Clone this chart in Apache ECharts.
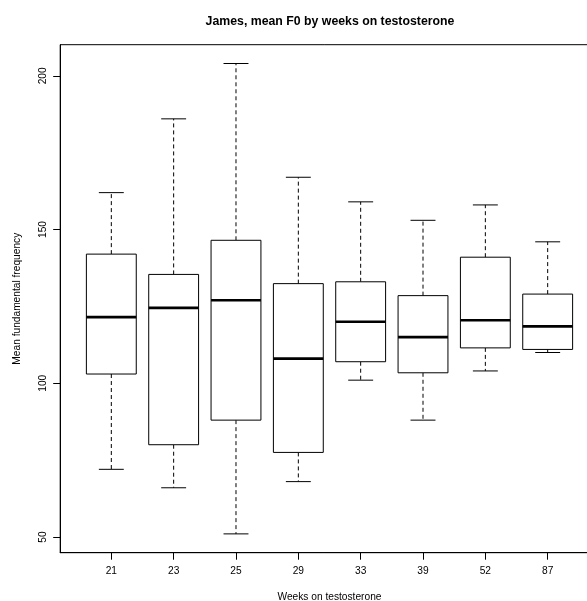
<!DOCTYPE html>
<html>
<head>
<meta charset="utf-8">
<script src="https://cdn.jsdelivr.net/npm/echarts@6/dist/echarts.min.js"></script>
<style>
html,body{margin:0;padding:0;background:#fff;}
#chart{width:587px;height:601px;}
</style>
</head>
<body>
<div id="chart"></div>
<script>
const weeks = ['21', '23', '25', '29', '33', '39', '52', '87'];
const whiskerLow = [72, 66, 51, 68, 101, 88, 104, 110];
const q1 = [103, 80, 88, 77.5, 107, 103.4, 111.5, 111];
const median = [121.5, 124.5, 127, 108, 120, 115, 120.5, 118.5];
const q3 = [142, 135.4, 146.5, 132.4, 133, 128.5, 141, 129];
const whiskerHigh = [162, 186, 204, 167, 159, 153, 158, 146];
const yTicks = [50, 100, 150, 200];
const xTicks = weeks.map((w, i) => i + 1);

const FONT = 'Liberation Sans';
const data = weeks.map((w, i) => [i + 1, whiskerLow[i], q1[i], median[i], q3[i], whiskerHigh[i]]);

const chart = echarts.init(document.getElementById('chart'), null, {renderer: 'canvas'});

function renderItem(params, api) {
  const x = api.value(0);
  const lo = api.coord([x, api.value(1)]);
  const b1 = api.coord([x, api.value(2)]);
  const md = api.coord([x, api.value(3)]);
  const b3 = api.coord([x, api.value(4)]);
  const hi = api.coord([x, api.value(5)]);
  const bw = api.size([0.8, 0])[0];
  const cw = bw / 2;
  const cx = lo[0];
  const dash = {stroke: '#000', lineWidth: 1, lineDash: [4, 3]};
  const solid = {stroke: '#000', lineWidth: 1};
  return {
    type: 'group',
    children: [
      {type: 'line', shape: {x1: cx, y1: b3[1], x2: cx, y2: hi[1]}, style: dash},
      {type: 'line', shape: {x1: cx, y1: b1[1], x2: cx, y2: lo[1]}, style: dash},
      {type: 'line', shape: {x1: cx - cw / 2, y1: hi[1], x2: cx + cw / 2, y2: hi[1]}, style: solid},
      {type: 'line', shape: {x1: cx - cw / 2, y1: lo[1], x2: cx + cw / 2, y2: lo[1]}, style: solid},
      {type: 'rect', shape: {x: cx - bw / 2, y: b3[1], width: bw, height: b1[1] - b3[1]},
        style: {fill: '#fff', stroke: '#000', lineWidth: 1}},
      {type: 'line', shape: {x1: cx - bw / 2, y1: md[1], x2: cx + bw / 2, y2: md[1]},
        style: {stroke: '#000', lineWidth: 2.6}}
    ]
  };
}

const option = {
  animation: false,
  backgroundColor: '#fff',
  title: {
    text: 'James, mean F0 by weeks on testosterone',
    left: 325,
    top: 11,
    textAlign: 'center',
    textStyle: {fontFamily: FONT, fontSize: 12.3, fontWeight: 'bold', color: '#000'}
  },
  grid: {
    left: 60.2, top: 44.7, width: 538.6, height: 508,
    outerBoundsMode: 'none',
    containLabel: false,
    show: true, borderColor: '#000', borderWidth: 1, backgroundColor: 'transparent'
  },
  xAxis: {
    type: 'value', min: 0.18, max: 8.82,
    name: 'Weeks on testosterone', nameLocation: 'middle', nameGap: 39,
    nameTextStyle: {fontFamily: FONT, fontSize: 10.2, color: '#000'},
    axisLine: {show: true, lineStyle: {color: '#000', width: 1}},
    axisTick: {show: true, inside: false, length: 7, customValues: xTicks, lineStyle: {color: '#000'}},
    axisLabel: {customValues: xTicks, margin: 13, fontFamily: FONT, fontSize: 10.2, color: '#000',
      formatter: v => weeks[Math.round(v) - 1] || ''},
    splitLine: {show: false}
  },
  yAxis: {
    type: 'value', min: 44.88, max: 210.12,
    name: 'Mean fundamental frequency', nameLocation: 'middle', nameGap: 38,
    nameTextStyle: {fontFamily: FONT, fontSize: 10.2, color: '#000'},
    axisLine: {show: true, lineStyle: {color: '#000', width: 1}},
    axisTick: {show: true, length: 7, customValues: yTicks, lineStyle: {color: '#000'}},
    axisLabel: {customValues: yTicks, rotate: 90, margin: 12, fontFamily: FONT, fontSize: 10.2, color: '#000'},
    splitLine: {show: false}
  },
  series: [{
    type: 'custom',
    renderItem: renderItem,
    encode: {x: 0, y: [1, 2, 3, 4, 5]},
    data: data
  }]
};
chart.setOption(option);
</script>
</body>
</html>
